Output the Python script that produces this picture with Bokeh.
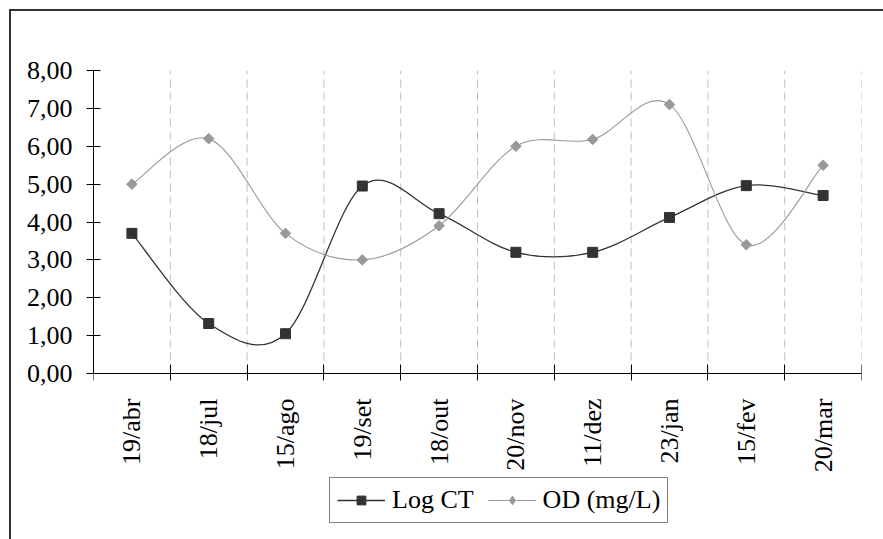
from math import pi
from bokeh.plotting import figure
from bokeh.models import (FixedTicker, Legend, LegendItem, InlineStyleSheet,
                          ColumnDataSource, Range1d)
from bokeh.embed import file_html
from bokeh.resources import INLINE

# ---- data ----
categories = ["19/abr", "18/jul", "15/ago", "19/set", "18/out",
              "20/nov", "11/dez", "23/jan", "15/fev", "20/mar"]
log_ct = [3.70, 1.32, 1.05, 4.95, 4.22, 3.20, 3.20, 4.12, 4.96, 4.70]
od_mgl = [5.00, 6.20, 3.70, 3.00, 3.90, 6.00, 6.18, 7.10, 3.40, 5.50]
y_ticks = [0, 1, 2, 3, 4, 5, 6, 7, 8]
y_tick_labels = ["0,00", "1,00", "2,00", "3,00", "4,00",
                 "5,00", "6,00", "7,00", "8,00"]

FONT = "Liberation Serif"
FS = "26px"
n = len(categories)
centers = [i + 0.5 for i in range(n)]
bounds = [float(i) for i in range(n + 1)]

# layout (pixels): value-axis part of the frame is 303 px tall, the frame
# continues 166 px below the category axis to hold labels and legend
AXIS_PX, BELOW_PX = 303, 166
y_lo = y_ticks[0] - BELOW_PX * (y_ticks[-1] - y_ticks[0]) / AXIS_PX


def smooth_source(xs, ys):
    """Bezier segments (Catmull-Rom style, like a spreadsheet 'smoothed line')."""
    d = dict(x0=[], y0=[], x1=[], y1=[], cx0=[], cy0=[], cx1=[], cy1=[])
    m = len(xs)
    for i in range(m - 1):
        a = i - 1 if i > 0 else i
        b = i + 2 if i + 2 < m else i + 1
        d["x0"].append(xs[i]); d["y0"].append(ys[i])
        d["x1"].append(xs[i + 1]); d["y1"].append(ys[i + 1])
        d["cx0"].append(xs[i] + (xs[i + 1] - xs[a]) / 6)
        d["cy0"].append(ys[i] + (ys[i + 1] - ys[a]) / 6)
        d["cx1"].append(xs[i + 1] - (xs[b] - xs[i]) / 6)
        d["cy1"].append(ys[i + 1] - (ys[b] - ys[i]) / 6)
    return ColumnDataSource(d)


p = figure(frame_width=768, frame_height=AXIS_PX + BELOW_PX,
           min_border_left=93, min_border_right=22,
           min_border_top=70, min_border_bottom=0,
           x_range=Range1d(0, n), y_range=Range1d(y_lo, y_ticks[-1]),
           output_backend="svg", toolbar_location=None,
           outline_line_color=None, background_fill_color="white",
           border_fill_color="white")

# category axis drawn at value 0, labels centred on categories,
# tick marks at category boundaries
xa = p.xaxis[0]
xa.fixed_location = y_ticks[0]
xa.ticker = FixedTicker(ticks=centers, minor_ticks=bounds)
xa.major_label_overrides = {c: lab for c, lab in zip(centers, categories)}
xa.major_tick_in = 0
xa.major_tick_out = 0
xa.minor_tick_in = 9
xa.minor_tick_out = 7
xa.minor_tick_line_color = "black"
xa.axis_line_color = "black"
xa.major_label_orientation = pi / 2
xa.major_label_standoff = 18
xa.major_label_text_font = FONT
xa.major_label_text_font_size = FS
xa.major_label_text_color = "black"

ya = p.yaxis[0]
ya.bounds = (y_ticks[0], y_ticks[-1])
ya.ticker = FixedTicker(ticks=y_ticks, minor_ticks=[])
ya.major_label_overrides = {t: lab for t, lab in zip(y_ticks, y_tick_labels)}
ya.major_tick_in = 7
ya.major_tick_out = 7
ya.major_tick_line_color = "black"
ya.axis_line_color = "black"
ya.major_label_standoff = 14
ya.major_label_text_font = FONT
ya.major_label_text_font_size = FS
ya.major_label_text_color = "black"

p.xgrid.grid_line_color = None
p.ygrid.grid_line_color = None
# dashed category separators, spanning the value range only
p.segment(x0=bounds[1:], y0=[y_ticks[0]] * n, x1=bounds[1:], y1=[y_ticks[-1]] * n,
          line_color="#c0c0c0", line_dash="8 5", line_width=1)

# series
ct_line = p.bezier(x0="x0", y0="y0", x1="x1", y1="y1", cx0="cx0", cy0="cy0",
                   cx1="cx1", cy1="cy1", source=smooth_source(centers, log_ct),
                   line_color="#333333", line_width=1.3)
ct_pts = p.scatter(centers, log_ct, marker="square", size=10,
                   fill_color="#333333", line_color="#333333")
od_line = p.bezier(x0="x0", y0="y0", x1="x1", y1="y1", cx0="cx0", cy0="cy0",
                   cx1="cx1", cy1="cy1", source=smooth_source(centers, od_mgl),
                   line_color="#999999", line_width=1.1)
od_pts = p.scatter(centers, od_mgl, marker="square", angle=pi / 4, size=7.5,
                   fill_color="#999999", line_color="#999999")
# legend-only key glyph (a diamond, since the legend does not rotate markers);
# its y values are NaN so nothing of it shows in the plot itself
od_key = p.scatter(x=centers, y=[float("nan")] * n, marker="diamond", size=10,
                   fill_color="#999999", line_color="#999999")

legend = Legend(items=[LegendItem(label="Log CT", renderers=[ct_line, ct_pts]),
                       LegendItem(label="OD (mg/L)", renderers=[od_line, od_key])],
                orientation="horizontal", location=(236, 16),
                glyph_width=48, glyph_height=22, label_standoff=7, spacing=14,
                padding=7, margin=0,
                label_text_font=FONT, label_text_font_size=FS,
                label_text_color="black",
                border_line_color="black", border_line_width=1,
                background_fill_color="white", background_fill_alpha=1)
p.add_layout(legend, "center")

# outer chart frame (only its top and left edges fall inside the picture)
p.stylesheets = [InlineStyleSheet(css="""
:host { position: relative; }
:host::after {
  content: ""; position: absolute; left: 9px; top: 9px; right: 0; bottom: 0;
  border-top: 2px solid #333333; border-left: 2px solid #333333;
  pointer-events: none; z-index: 100;
}
""")]

open("out.html", "w").write(file_html(p, INLINE))
